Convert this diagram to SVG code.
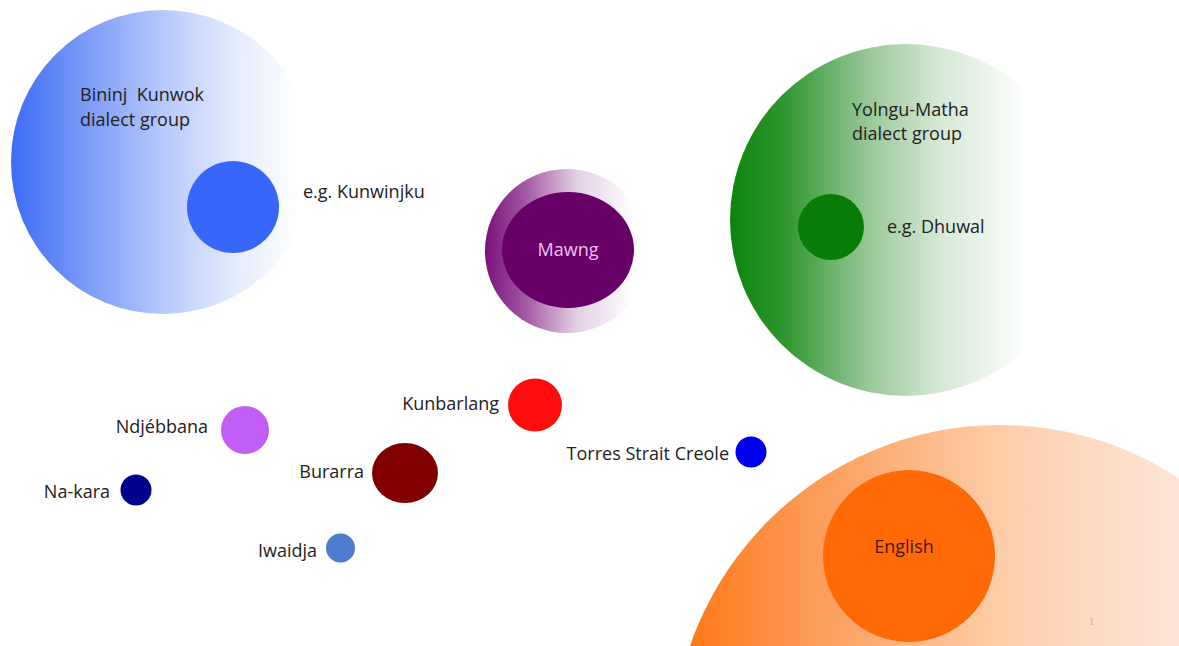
<svg xmlns="http://www.w3.org/2000/svg" width="1179" height="646" viewBox="0 0 1179 646">
  <defs>
    <linearGradient id="gBlue" x1="0" y1="0" x2="1" y2="0">
      <stop offset="0" stop-color="#3c6cf5"/>
      <stop offset="0.2" stop-color="#6f92f7"/>
      <stop offset="0.5" stop-color="#b6c9fb"/>
      <stop offset="0.75" stop-color="#e6edfd"/>
      <stop offset="0.95" stop-color="#ffffff"/>
    </linearGradient>
    <linearGradient id="gGreen" x1="0" y1="0" x2="1" y2="0">
      <stop offset="0" stop-color="#0c850c"/>
      <stop offset="0.15" stop-color="#2d952d"/>
      <stop offset="0.4" stop-color="#9bc99b"/>
      <stop offset="0.6" stop-color="#d6e9d6"/>
      <stop offset="0.85" stop-color="#ffffff"/>
    </linearGradient>
    <linearGradient id="gPurple" x1="0" y1="0" x2="1" y2="0">
      <stop offset="0" stop-color="#7a0f7a"/>
      <stop offset="0.25" stop-color="#a35aa3"/>
      <stop offset="0.55" stop-color="#e2cde2"/>
      <stop offset="0.9" stop-color="#ffffff"/>
    </linearGradient>
    <linearGradient id="gOrange" x1="0" y1="0" x2="1" y2="0">
      <stop offset="0" stop-color="#ff7410"/>
      <stop offset="0.12" stop-color="#fd8a38"/>
      <stop offset="0.3" stop-color="#fcab70"/>
      <stop offset="0.5" stop-color="#fdcda9"/>
      <stop offset="0.78" stop-color="#fde7d8"/>
      <stop offset="1" stop-color="#fff3ea"/>
    </linearGradient>
    <style>
      .lbl { font-family: "Open Sans", "Noto Sans", sans-serif; font-size: 18px; fill: #222222; }
      .end { text-anchor: end; }
      .mid { text-anchor: middle; }
    </style>
  </defs>

  <rect x="0" y="0" width="1179" height="646" fill="#ffffff"/>

  <g id="connectors"></g>

  <g id="bininj-kunwok">
    <circle cx="163" cy="162" r="152" fill="url(#gBlue)"/>
    <text class="lbl" x="80" y="101" xml:space="preserve">Bininj  Kunwok</text>
    <text class="lbl" x="80" y="126">dialect group</text>
  </g>
  <g id="kunwinjku">
    <circle cx="233" cy="207" r="46" fill="#3767fa"/>
    <text class="lbl" x="303" y="198">e.g. Kunwinjku</text>
  </g>

  <g id="mawng">
    <circle cx="567" cy="251" r="82" fill="url(#gPurple)"/>
    <ellipse cx="568" cy="250" rx="66" ry="58" fill="#660066"/>
    <text class="lbl mid" x="568" y="256" style="fill:#f2c2f2">Mawng</text>
  </g>

  <g id="yolngu-matha">
    <circle cx="906" cy="220" r="176" fill="url(#gGreen)"/>
    <text class="lbl" x="852" y="116">Yolngu-Matha</text>
    <text class="lbl" x="852" y="140">dialect group</text>
  </g>
  <g id="dhuwal">
    <circle cx="831" cy="227" r="33" fill="#087c08"/>
    <text class="lbl" x="887" y="233">e.g. Dhuwal</text>
  </g>

  <g id="english-group">
    <circle cx="1000" cy="753" r="328" fill="url(#gOrange)"/>
  </g>
  <g id="english">
    <circle cx="909" cy="556" r="86" fill="#ff6a06"/>
    <text class="lbl mid" x="904" y="553" style="fill:#4a1500">English</text>
  </g>

  <g id="ndjebbana">
    <circle cx="245" cy="430" r="24" fill="#c15ef6"/>
    <text class="lbl end" x="208" y="433">Ndjébbana</text>
  </g>
  <g id="na-kara">
    <circle cx="136" cy="490" r="15.5" fill="#00008c"/>
    <text class="lbl end" x="110" y="498">Na-kara</text>
  </g>
  <g id="kunbarlang">
    <ellipse cx="535" cy="405" rx="27" ry="26.5" fill="#ff0d0d"/>
    <text class="lbl end" x="499" y="410">Kunbarlang</text>
  </g>
  <g id="burarra">
    <ellipse cx="405" cy="473" rx="33" ry="30" fill="#800000"/>
    <text class="lbl end" x="364" y="478">Burarra</text>
  </g>
  <g id="iwaidja">
    <circle cx="340.5" cy="548" r="14.5" fill="#4d7cce"/>
    <text class="lbl end" x="317" y="557">Iwaidja</text>
  </g>
  <g id="torres-strait-creole">
    <circle cx="751" cy="452" r="15.5" fill="#0000ee"/>
    <text class="lbl end" x="729" y="460">Torres Strait Creole</text>
  </g>

  <text x="1089" y="625" style="font-family:'Liberation Serif', serif; font-size:10px; fill:#b8aaa0">1</text>
</svg>
